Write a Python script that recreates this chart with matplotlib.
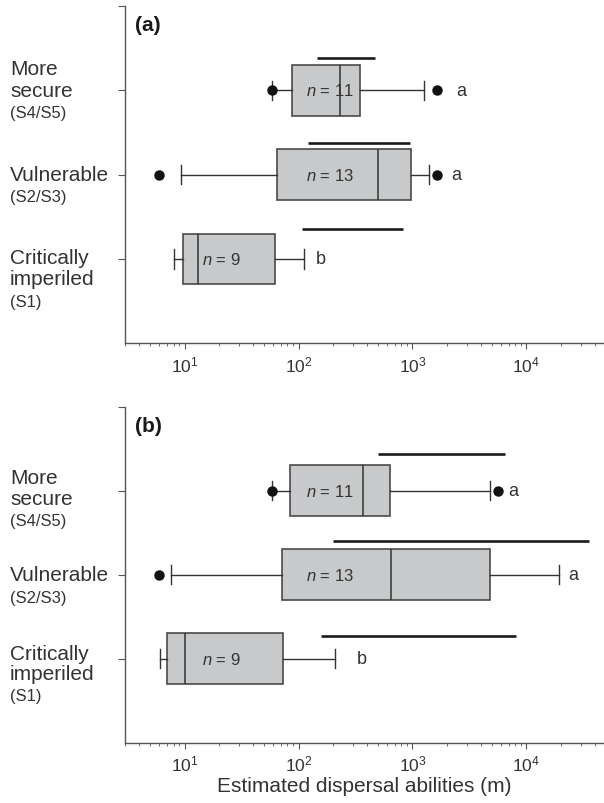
import matplotlib
matplotlib.use("Agg")
import matplotlib.pyplot as plt
from matplotlib.ticker import LogLocator, NullFormatter

plt.rcParams["font.family"] = ["Liberation Sans", "DejaVu Sans"]
plt.rcParams["mathtext.fontset"] = "custom"
plt.rcParams["mathtext.rm"] = "Liberation Sans"
plt.rcParams["mathtext.it"] = "Liberation Sans:italic"

INK = "#333333"
BOX_FILL = "#c8c9cb"
BOX_EDGE = "#4a4a4a"

# status groups, top to bottom
groups = ["More secure", "Vulnerable", "Critically imperiled"]
sublabels = ["(S4/S5)", "(S2/S3)", "(S1)"]
n_obs = [11, 13, 9]
letters = ["a", "a", "b"]

# panel (a)
a_q1 = [88.5, 65, 9.6]
a_med = [229, 497, 13.1]
a_q3 = [345, 975, 62.5]
a_lo = [58.3, 9.3, 8.1]
a_hi = [1274, 1390, 111]
a_fliers = [[58.3, 1648], [6.0, 1648], []]
a_range_lo = [146, 122, 108]
a_range_hi = [467, 947, 822]

# panel (b)
b_q1 = [84, 71, 7.05]
b_med = [366, 654, 10.06]
b_q3 = [641, 4760, 73.5]
b_lo = [59, 7.6, 6.07]
b_hi = [4760, 19200, 207]
b_fliers = [[59, 5600], [6.0], []]
b_range_lo = [497, 200, 156]
b_range_hi = [6460, 35200, 8050]


def make_stats(q1, med, q3, lo, hi, fliers):
    return [dict(q1=q1[i], med=med[i], q3=q3[i], whislo=lo[i], whishi=hi[i],
                 fliers=fliers[i], label=groups[i]) for i in range(len(groups))]


def draw_panel(ax, stats, rng_lo, rng_hi, rng_dy, letter_x, label_dy, tag):
    pos = [3, 2, 1]
    ax.bxp(stats, positions=pos, widths=0.6, orientation="horizontal",
           patch_artist=True, capwidths=0.23, manage_ticks=False,
           boxprops=dict(facecolor=BOX_FILL, edgecolor=BOX_EDGE, lw=1.2),
           whiskerprops=dict(color=INK, lw=1.0),
           capprops=dict(color=INK, lw=1.0),
           medianprops=dict(color=INK, lw=1.1),
           flierprops=dict(marker="o", markersize=6.5, markerfacecolor="#111111",
                           markeredgecolor="#111111"))
    ax.set_xscale("log")
    ax.set_xlim(3, 4.8e4)
    ax.set_ylim(0, 4)

    # range bars above each box
    for p, lo, hi, dy in zip(pos, rng_lo, rng_hi, rng_dy):
        ax.hlines(p + dy, lo, hi, color="#1a1a1a", lw=1.9)

    for p, n, lx, let in zip(pos, n_obs, letter_x, letters):
        nx = 21 if p == 1 else 190
        ax.text(nx, p, f"$n$ = {n}", ha="center", va="center", color=INK, fontsize=12)
        ax.text(lx, p, let, ha="center", va="center", color=INK, fontsize=13)

    # category names down the left margin
    tr = ax.get_yaxis_transform()
    for p, name, sub, offs in zip(pos, groups, sublabels, label_dy):
        words = name.split(" ")
        if name == "Vulnerable":
            words = [name]
        for w, dy in zip(words + [sub], offs):
            ax.text(-0.24, p + dy, w, transform=tr, ha="left", va="center", color=INK,
                    fontsize=12 if w == sub else 15)

    ax.text(0.021, 0.945, tag, transform=ax.transAxes, ha="left", va="center",
            fontsize=15, fontweight="bold", color="#1a1a1a")

    for s in ("top", "right"):
        ax.spines[s].set_visible(False)
    for s in ("left", "bottom"):
        ax.spines[s].set_color("#555555")
        ax.spines[s].set_linewidth(1.0)
    ax.set_yticks([1, 2, 3, 4])
    ax.set_yticklabels([])
    ax.tick_params(axis="y", length=5, color="#555555")
    ax.xaxis.set_major_locator(LogLocator(base=10, numticks=10))
    ax.xaxis.set_minor_locator(LogLocator(base=10, subs=range(2, 10), numticks=20))
    ax.xaxis.set_minor_formatter(NullFormatter())
    ax.tick_params(axis="x", which="major", length=4, color="#555555",
                   labelsize=12.5, labelcolor=INK, pad=4)
    ax.tick_params(axis="x", which="minor", length=2.5, color="#555555")


fig = plt.figure(figsize=(6.04, 8.04), dpi=100)
ax_a = fig.add_axes([0.207, 0.572, 0.793, 0.419])
ax_b = fig.add_axes([0.207, 0.075, 0.793, 0.418])

draw_panel(ax_a, make_stats(a_q1, a_med, a_q3, a_lo, a_hi, a_fliers),
           a_range_lo, a_range_hi, [0.39, 0.38, 0.36], [2690, 2430, 156],
           [[0.26, 0.0, -0.26], [0.0, -0.26], [0.02, -0.23, -0.5]], "(a)")
draw_panel(ax_b, make_stats(b_q1, b_med, b_q3, b_lo, b_hi, b_fliers),
           b_range_lo, b_range_hi, [0.44, 0.40, 0.27], [7640, 26000, 362],
           [[0.16, -0.09, -0.36], [0.0, -0.27], [0.06, -0.18, -0.44]], "(b)")

ax_b.set_xlabel("Estimated dispersal abilities (m)", fontsize=15, color=INK, labelpad=2)

fig.savefig("out.png", dpi=100)
